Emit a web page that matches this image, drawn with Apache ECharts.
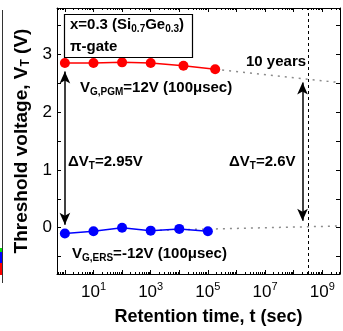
<!DOCTYPE html>
<html>
<head>
<meta charset="utf-8">
<script src="https://cdn.jsdelivr.net/npm/echarts@6/dist/echarts.min.js"></script>
<style>html,body{margin:0;padding:0;background:#fff}#main{width:343px;height:331px}</style>
</head>
<body>
<div id="main"></div>
<script>
// retention data: time (sec) and threshold voltage (V)
var pgmTime = [1, 10, 100, 1000, 14000, 180000];
var pgmVt = [2.85, 2.85, 2.86, 2.85, 2.80, 2.74];
var ersTime = [1, 10, 100, 1000, 10000, 100000];
var ersVt = [-0.10, -0.06, 0.00, -0.05, -0.02, -0.06];
// dotted extrapolation lines
var pgmFitTime = [180000, 4.17e9];
var pgmFitVt = [2.74, 2.51];
var ersFitTime = [1200, 4.17e9];
var ersFitVt = [-0.045, 0.03];
var tenYears = 3.15e8;
// delta VT arrows (time, low, high)
var dvtLeft = [1, 0.05, 2.70];
var dvtRight = [2.04e8, 0.12, 2.51];
var xTickExp = [1, 3, 5, 7, 9];

var FONT = '"Liberation Sans", Arial, sans-serif';

function zip(a, b) {
  return a.map(function (v, i) { return [v, b[i]]; });
}

function xLabel(v) {
  var l = Math.log10(v);
  var e = Math.round(l);
  if (Math.abs(l - e) > 1e-6 || xTickExp.indexOf(e) < 0) return '';
  return '{b|10}{s|' + e + '}';
}

function yLabel(v) {
  return Math.abs(v - Math.round(v)) < 1e-6 ? String(Math.round(v)) : '';
}

var chart = echarts.init(document.getElementById('main'));

var bold = function (size, extra) {
  var o = { fontFamily: FONT, fontWeight: 'bold', fontSize: size, color: '#000' };
  for (var k in extra) o[k] = extra[k];
  return o;
};

var richText = {
  m: bold(15, { lineHeight: 18, verticalAlign: 'middle' }),
  sub: bold(10, { lineHeight: 10, verticalAlign: 'bottom', padding: [6, 0, 0, 0] })
};

var axisBase = {
  type: 'log',
  min: 0.53,
  max: 4.17e9,
  axisLine: { onZero: false, lineStyle: { color: '#000', width: 1 } },
  axisTick: { inside: true, length: 4, lineStyle: { color: '#000' } },
  minorTick: { show: true, splitNumber: 9, length: 2, lineStyle: { color: '#000' } },
  splitLine: { show: false }
};

var yBase = {
  type: 'value',
  min: -0.8,
  max: 3.8,
  axisLine: { onZero: false, lineStyle: { color: '#000' } },
  axisTick: { inside: true, length: 4, lineStyle: { color: '#000' } },
  minorTick: { show: true, splitNumber: 2, length: 4, lineStyle: { color: '#000' } },
  splitLine: { show: false }
};

var option = {
  animation: false,
  backgroundColor: '#fff',
  grid: { left: 57, top: 8, right: -1, bottom: 49 },
  xAxis: [
    Object.assign({}, axisBase, {
      position: 'bottom',
      name: '{t|Retention time, t (sec)}',
      nameLocation: 'middle',
      nameGap: 34,
      nameTextStyle: { rich: { t: bold(18, {}) }, padding: [0, 0, 0, 20] },
      axisLabel: {
        formatter: xLabel,
        margin: 7,
        rich: {
          b: { fontFamily: FONT, fontSize: 17, color: '#000', lineHeight: 20, verticalAlign: 'bottom' },
          s: { fontFamily: FONT, fontSize: 11, color: '#000', lineHeight: 11, verticalAlign: 'top' }
        }
      }
    }),
    Object.assign({}, axisBase, {
      position: 'top',
      axisLabel: { show: false }
    })
  ],
  yAxis: [
    Object.assign({}, yBase, {
      position: 'left',
      name: '{t|Threshold voltage, V}{s|T}{t| (V)}',
      nameLocation: 'middle',
      nameGap: 24,
      nameTextStyle: {
        rich: {
          t: bold(19, { lineHeight: 20, verticalAlign: 'middle' }),
          s: bold(12, { lineHeight: 12, verticalAlign: 'bottom', padding: [7, 0, 0, 0] })
        }
      },
      axisLabel: { formatter: yLabel, margin: 5, fontFamily: FONT, fontSize: 17, color: '#000' }
    }),
    Object.assign({}, yBase, {
      position: 'right',
      axisLabel: { show: false }
    })
  ],
  series: [
    {
      type: 'line',
      data: zip(pgmFitTime, pgmFitVt),
      symbol: 'none',
      lineStyle: { color: '#8c8c8c', width: 1.5, type: [2, 5] },
      z: 1,
      markLine: {
        silent: true,
        symbol: 'none',
        label: { show: false },
        lineStyle: { color: '#000', width: 1, type: [3, 3] },
        data: [{ xAxis: tenYears }]
      }
    },
    {
      type: 'line',
      data: zip(ersFitTime, ersFitVt),
      symbol: 'none',
      lineStyle: { color: '#8c8c8c', width: 1.5, type: [2, 5] },
      z: 1,
      markLine: {
        silent: true,
        symbol: ['arrow', 'arrow'],
        symbolSize: [8, 12],
        label: { show: false },
        lineStyle: { color: '#000', width: 1.5, type: 'solid' },
        data: [
          [{ coord: [dvtLeft[0], dvtLeft[1]] }, { coord: [dvtLeft[0], dvtLeft[2]] }],
          [{ coord: [dvtRight[0], dvtRight[1]] }, { coord: [dvtRight[0], dvtRight[2]] }]
        ]
      }
    },
    {
      type: 'line',
      data: zip(pgmTime, pgmVt),
      symbol: 'circle',
      symbolSize: 10,
      itemStyle: { color: '#ff0000' },
      lineStyle: { color: '#ff0000', width: 1.5 },
      z: 5
    },
    {
      type: 'line',
      data: zip(ersTime, ersVt),
      symbol: 'circle',
      symbolSize: 10,
      itemStyle: { color: '#0000ff' },
      lineStyle: { color: '#0000ff', width: 1.5 },
      z: 5
    }
  ],
  graphic: [
    // sliver of the neighbouring panel on the left
    { type: 'line', shape: { x1: 2.5, y1: 10, x2: 2.5, y2: 283 }, style: { stroke: '#333', lineWidth: 1 } },
    { type: 'rect', shape: { x: 0, y: 248, width: 2, height: 4 }, style: { fill: '#00e000' } },
    { type: 'rect', shape: { x: 0, y: 252, width: 2, height: 11 }, style: { fill: '#0000ff' } },
    { type: 'rect', shape: { x: 0, y: 263, width: 2, height: 12 }, style: { fill: '#ff0000' } },
    // sample box
    { type: 'rect', shape: { x: 64.5, y: 14.5, width: 128, height: 43 }, style: { fill: '#fff', stroke: '#000', lineWidth: 1.2 }, z: 10 },
    {
      type: 'text', x: 70, y: 25, z: 11,
      style: { text: '{m|x=0.3 (Si}{sub|0.7}{m|Ge}{sub|0.3}{m|)}', rich: richText, verticalAlign: 'middle' }
    },
    {
      type: 'text', x: 70, y: 47, z: 11,
      style: { text: '{m|π-gate}', rich: richText, verticalAlign: 'middle' }
    },
    {
      type: 'text', x: 80, y: 88, z: 11,
      style: { text: '{m|V}{sub|G,PGM}{m|=12V (100μsec)}', rich: richText, verticalAlign: 'middle' }
    },
    {
      type: 'text', x: 68, y: 162, z: 11,
      style: { text: '{m|ΔV}{sub|T}{m|=2.95V}', rich: richText, verticalAlign: 'middle' }
    },
    {
      type: 'text', x: 229, y: 162, z: 11,
      style: { text: '{m|ΔV}{sub|T}{m|=2.6V}', rich: richText, verticalAlign: 'middle' }
    },
    {
      type: 'text', x: 246, y: 62, z: 11,
      style: { text: '{m|10 years}', rich: richText, verticalAlign: 'middle' }
    },
    {
      type: 'text', x: 72, y: 254, z: 11,
      style: { text: '{m|V}{sub|G,ERS}{m|=-12V (100μsec)}', rich: richText, verticalAlign: 'middle' }
    }
  ]
};

chart.setOption(option);
</script>
</body>
</html>
